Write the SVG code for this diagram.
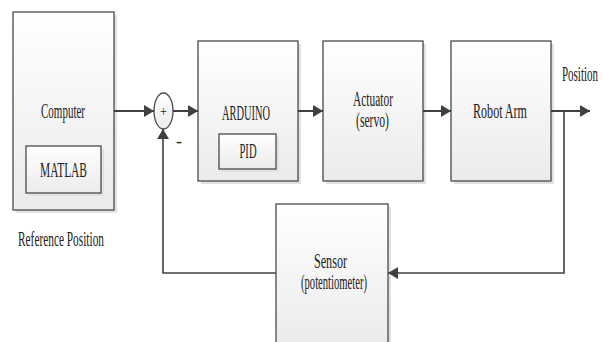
<svg xmlns="http://www.w3.org/2000/svg" width="603" height="342" viewBox="0 0 603 342">
<style>
.box{fill:url(#g);stroke:#4a4a4a;stroke-width:1.3}
.sh{fill:#e2e2e2;stroke:none}
.t{font-family:"Liberation Serif","Times New Roman",serif;font-size:20px;fill:#222;text-anchor:middle}
.ln{fill:none;stroke:#404040;stroke-width:2}
.fb{fill:none;stroke:#404040;stroke-width:1.6}
</style>
<defs>
<linearGradient id="g" x1="0" y1="0" x2="0" y2="1">
<stop offset="0" stop-color="#ffffff"/>
<stop offset="1" stop-color="#ebebeb"/>
</linearGradient>
<marker id="ah" markerUnits="userSpaceOnUse" markerWidth="10" markerHeight="12" refX="10" refY="6" orient="auto">
<path d="M0,0 L10,6 L0,12 z" fill="#404040"/>
</marker>
</defs>
<rect width="603" height="342" fill="#ffffff"/>

<g id="computer">
<rect class="sh" x="16" y="15" width="101" height="198"/>
<rect class="box" x="13" y="12" width="101" height="198"/>
<text class="t" x="63" y="118" textLength="44" lengthAdjust="spacingAndGlyphs">Computer</text>
<g id="matlab">
<rect class="sh" x="29" y="149" width="75" height="47"/>
<rect class="box" x="26" y="146" width="75" height="47"/>
<text class="t" x="63.5" y="177" textLength="47" lengthAdjust="spacingAndGlyphs">MATLAB</text>
</g>
</g>

<g id="refpos">
<text class="t" x="61" y="246" textLength="86" lengthAdjust="spacingAndGlyphs">Reference Position</text>
</g>

<g id="sum">
<ellipse cx="163.5" cy="111" rx="9.5" ry="18" fill="url(#g)" stroke="#4a4a4a" stroke-width="1.3"/>
<text class="t" x="163.5" y="116" style="font-size:14px" textLength="7" lengthAdjust="spacingAndGlyphs">+</text>
<text class="t" x="179" y="147" style="font-size:18px" textLength="6" lengthAdjust="spacingAndGlyphs">-</text>
</g>

<g id="arduino">
<rect class="sh" x="201" y="44" width="100" height="140"/>
<rect class="box" x="198" y="41" width="100" height="140"/>
<text class="t" x="246" y="120" textLength="48" lengthAdjust="spacingAndGlyphs">ARDUINO</text>
<g id="pid">
<rect class="sh" x="222" y="137" width="57" height="35"/>
<rect class="box" x="219" y="134" width="57" height="35"/>
<text class="t" x="248" y="158" textLength="17" lengthAdjust="spacingAndGlyphs">PID</text>
</g>
</g>

<g id="actuator">
<rect class="sh" x="326" y="44" width="100" height="140"/>
<rect class="box" x="323" y="41" width="100" height="140"/>
<text class="t" x="373" y="106" textLength="40" lengthAdjust="spacingAndGlyphs">Actuator</text>
<text class="t" x="372.5" y="127" textLength="33" lengthAdjust="spacingAndGlyphs">(servo)</text>
</g>

<g id="robotarm">
<rect class="sh" x="454" y="44" width="100" height="140"/>
<rect class="box" x="451" y="41" width="100" height="140"/>
<text class="t" x="500" y="118" textLength="54" lengthAdjust="spacingAndGlyphs">Robot Arm</text>
</g>

<g id="position">
<text class="t" transform="translate(580,81) scale(0.55,1)" x="0" y="0">Position</text>
</g>

<g id="sensor">
<rect class="sh" x="279" y="207" width="112" height="140"/>
<rect class="box" x="276" y="204" width="112" height="140"/>
<text class="t" x="330.5" y="268" textLength="33" lengthAdjust="spacingAndGlyphs">Sensor</text>
<text class="t" x="334" y="289" textLength="66" lengthAdjust="spacingAndGlyphs">(potentiometer)</text>
</g>

<g id="connectors">
<line class="ln" x1="114" y1="111" x2="154" y2="111" marker-end="url(#ah)"/>
<line class="ln" x1="173" y1="111" x2="198" y2="111" marker-end="url(#ah)"/>
<line class="ln" x1="298" y1="111" x2="323" y2="111" marker-end="url(#ah)"/>
<line class="ln" x1="423" y1="111" x2="451" y2="111" marker-end="url(#ah)"/>
<line class="ln" x1="551" y1="111" x2="590" y2="111" marker-end="url(#ah)"/>
<polyline class="fb" points="564,111 564,273 388,273" marker-end="url(#ah)"/>
<polyline class="fb" points="276,273 163,273 163,129" marker-end="url(#ah)"/>
</g>
</svg>
